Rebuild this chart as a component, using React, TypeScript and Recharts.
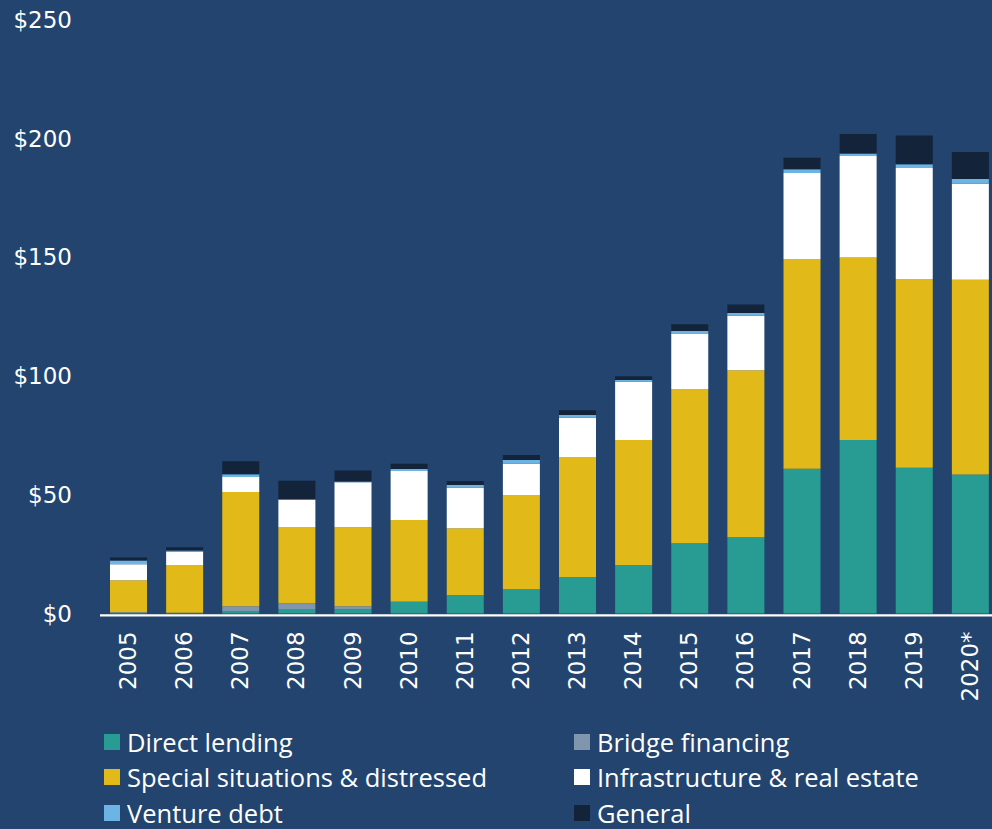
import React from 'react';
import { BarChart, Bar, XAxis, YAxis, Legend } from 'recharts';

const years = ['2005', '2006', '2007', '2008', '2009', '2010', '2011', '2012', '2013', '2014', '2015', '2016', '2017', '2018', '2019', '2020*'];
const directLending = [0.3, 0.3, 1.0, 1.9, 1.8, 4.8, 7.6, 10.2, 15.4, 20.4, 29.6, 32.1, 61.0, 73.1, 61.4, 58.5];
const bridgeFinancing = [0.2, 0, 2.1, 2.4, 1.3, 0.5, 0.2, 0, 0, 0, 0, 0, 0, 0, 0, 0];
const specialSituations = [13.5, 20.1, 48.1, 32.1, 33.2, 34.1, 28.1, 39.7, 50.5, 52.7, 65.0, 70.4, 88.3, 76.9, 79.5, 82.1];
const infrastructure = [6.7, 5.6, 6.3, 11.4, 19.0, 20.6, 17.1, 13.2, 16.6, 24.5, 23.3, 22.9, 36.3, 42.7, 46.8, 40.4];
const ventureDebt = [1.6, 0.5, 1.2, 0.3, 0.3, 0.9, 1.1, 1.6, 1.1, 0.8, 1.1, 1.2, 1.5, 1.1, 1.5, 2.0];
const general = [1.3, 1.4, 5.4, 7.8, 4.6, 2.2, 1.7, 2.1, 2.0, 1.5, 2.8, 3.6, 4.9, 8.2, 12.1, 11.4];
const yTicks = [0, 50, 100, 150, 200, 250];

const series = [
  { key: 'direct', name: 'Direct lending', color: '#289C92', values: directLending },
  { key: 'bridge', name: 'Bridge financing', color: '#7F96AE', values: bridgeFinancing },
  { key: 'special', name: 'Special situations & distressed', color: '#E1B918', values: specialSituations },
  { key: 'infra', name: 'Infrastructure & real estate', color: '#FFFFFF', values: infrastructure },
  { key: 'venture', name: 'Venture debt', color: '#6CB4E4', values: ventureDebt },
  { key: 'general', name: 'General', color: '#12233A', values: general },
];

const data = years.map((year, i) => {
  const row: Record<string, any> = { year };
  series.forEach((s) => {
    row[s.key] = s.values[i];
  });
  return row;
});

const BG = '#22446E';

const XTick = (props: any) => {
  const { x, y, payload } = props;
  const ty = y + 14;
  return (
    <text
      x={x}
      y={ty}
      transform={`rotate(-90, ${x}, ${ty})`}
      textAnchor="end"
      dominantBaseline="central"
      fill="#FFFFFF"
      fontSize={23}
      fontFamily="DejaVu Sans"
    >
      {payload.value}
    </text>
  );
};

const YTick = (props: any) => {
  const { y, payload } = props;
  return (
    <text x={72} y={y} textAnchor="end" dominantBaseline="central" fill="#FFFFFF" fontSize={23} fontFamily="DejaVu Sans">
      {`$${payload.value}`}
    </text>
  );
};

const legendOrder = ['direct', 'bridge', 'special', 'infra', 'venture', 'general'];

const renderLegend = () => {
  return (
    <div
      style={{
        display: 'grid',
        gridTemplateColumns: '470px 420px',
        rowGap: 0,
        fontFamily: 'Open Sans',
        fontSize: 25.5,
        color: '#FFFFFF',
      }}
    >
      {legendOrder.map((k) => {
        const s = series.find((x) => x.key === k)!;
        return (
          <div key={k} style={{ display: 'flex', alignItems: 'center', height: 35.5, whiteSpace: 'nowrap' }}>
            <span style={{ display: 'inline-block', width: 16, height: 16, background: s.color, marginRight: 7, flex: 'none' }} />
            <span>{s.name}</span>
          </div>
        );
      })}
    </div>
  );
};

export default function App() {
  return (
    <div style={{ position: 'fixed', top: 0, left: 0, width: 992, height: 829, overflow: 'hidden', background: BG }}>
      <BarChart
        width={1000}
        height={829}
        data={data}
        margin={{ top: 20, right: 2, left: 0, bottom: 113.6 }}
        barSize={37}
      >
        <YAxis
          width={100}
          domain={[-0.8, 250]}
          ticks={yTicks}
          allowDataOverflow
          axisLine={false}
          tickLine={false}
          tick={<YTick />}
          interval={0}
        />
        <XAxis
          dataKey="year"
          height={100}
          interval={0}
          tickLine={false}
          tickSize={0}
          axisLine={{ stroke: '#FFFFFF', strokeWidth: 2.4 }}
          tick={<XTick />}
        />
        <Legend
          layout="horizontal"
          verticalAlign="middle"
          align="center"
          content={renderLegend}
          wrapperStyle={{ position: 'absolute', top: 724, left: 104, width: 900, height: 110 }}
        />
        {series.map((s) => (
          <Bar key={s.key} dataKey={s.key} name={s.name} stackId="a" fill={s.color} isAnimationActive={false} />
        ))}
      </BarChart>
    </div>
  );
}
